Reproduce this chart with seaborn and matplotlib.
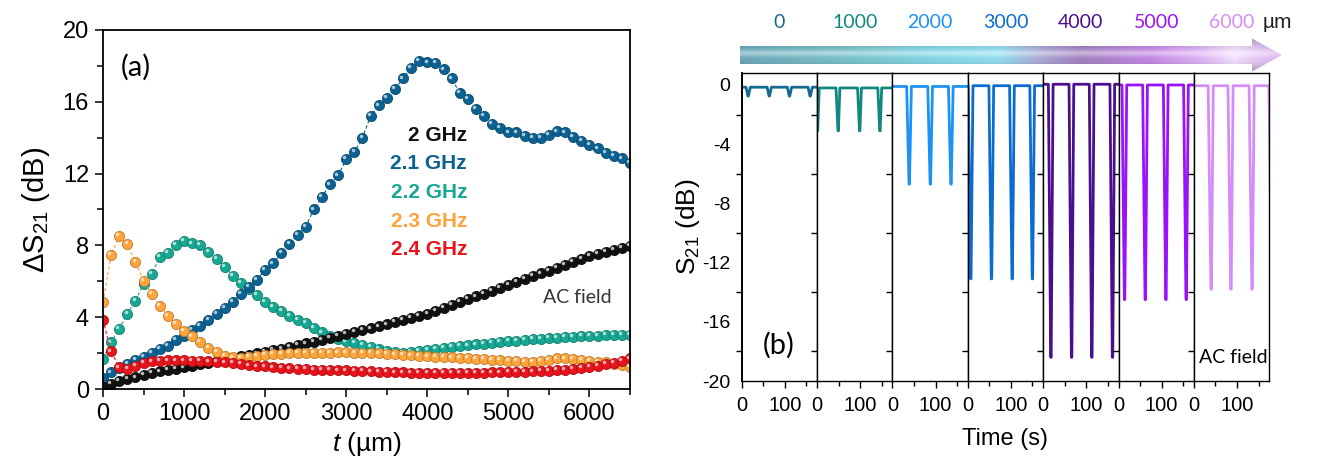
import numpy as np
import pandas as pd
import matplotlib
matplotlib.use('Agg')
import matplotlib.pyplot as plt
import matplotlib.transforms as mtransforms
from matplotlib.patches import Polygon
from matplotlib.colors import to_rgb
import seaborn as sns

# ---------------------------------------------------------------- data (a)
t_um = np.arange(0, 6600, 100)

ds21_2p0 = [0.1, 0.3, 0.45, 0.55, 0.65, 0.78, 0.9, 0.98, 1.05, 1.12,
            1.2, 1.3, 1.38, 1.46, 1.55, 1.64, 1.73, 1.82, 1.9, 1.98,
            2.07, 2.16, 2.25, 2.34, 2.44, 2.54, 2.64, 2.74, 2.84, 2.94,
            3.05, 3.16, 3.27, 3.38, 3.49, 3.6, 3.72, 3.84, 3.96, 4.08,
            4.2, 4.36, 4.52, 4.68, 4.84, 5.0, 5.16, 5.32, 5.48, 5.64,
            5.8, 5.96, 6.12, 6.28, 6.44, 6.6, 6.76, 6.92, 7.08, 7.24,
            7.4, 7.52, 7.63, 7.74, 7.85, 7.95]
ds21_2p1 = [0.62, 0.93, 1.15, 1.42, 1.62, 1.8, 2.02, 2.22, 2.42, 2.72,
            2.97, 3.28, 3.53, 3.85, 4.2, 4.5, 4.87, 5.3, 5.7, 6.1,
            6.65, 7.0, 7.6, 8.1, 8.6, 9.05, 10.0, 10.7, 11.4, 11.9,
            12.8, 13.2, 14.0, 15.2, 15.8, 16.2, 16.7, 17.3, 17.9, 18.3,
            18.2, 18.15, 17.8, 17.3, 16.5, 16.15, 15.6, 15.2, 14.75, 14.55,
            14.3, 14.3, 14.1, 14.0, 14.0, 14.15, 14.35, 14.3, 14.05, 13.8,
            13.6, 13.4, 13.15, 13.0, 12.85, 12.6]
ds21_2p2 = [1.69, 2.6, 3.35, 4.19, 4.93, 5.85, 6.39, 7.37, 7.56, 8.02,
            8.24, 8.11, 8.02, 7.65, 7.24, 6.81, 6.3, 5.89, 5.56, 5.24,
            4.83, 4.59, 4.35, 4.09, 3.85, 3.67, 3.39, 3.15, 2.93, 2.8,
            2.65, 2.56, 2.45, 2.33, 2.22, 2.12, 2.06, 2.03, 2.08, 2.14,
            2.2, 2.24, 2.28, 2.33, 2.38, 2.43, 2.48, 2.53, 2.58, 2.62,
            2.66, 2.7, 2.73, 2.77, 2.8, 2.83, 2.86, 2.89, 2.92, 2.94,
            2.96, 2.98, 3.0, 3.0, 3.02, 3.0]
ds21_2p3 = [4.83, 7.46, 8.52, 8.07, 7.09, 6.04, 5.3, 4.65, 4.09, 3.63,
            3.24, 2.93, 2.61, 2.31, 2.06, 1.85, 1.76, 1.72, 1.78, 1.85,
            1.91, 1.94, 1.97, 1.99, 2.0, 2.01, 2.02, 2.03, 2.03, 2.04,
            2.04, 2.03, 2.02, 2.0, 1.98, 1.96, 1.93, 1.9, 1.87, 1.84,
            1.82, 1.8, 1.78, 1.76, 1.74, 1.72, 1.69, 1.66, 1.63, 1.61,
            1.58, 1.55, 1.52, 1.5, 1.55, 1.63, 1.7, 1.7, 1.67, 1.63,
            1.58, 1.53, 1.48, 1.42, 1.35, 1.25]
ds21_2p4 = [3.85, 2.09, 1.2, 1.11, 1.3, 1.44, 1.54, 1.57, 1.59, 1.59,
            1.59, 1.58, 1.57, 1.54, 1.5, 1.48, 1.44, 1.39, 1.31, 1.26,
            1.26, 1.2, 1.19, 1.15, 1.11, 1.1, 1.07, 1.07, 1.06, 1.04,
            1.04, 1.02, 1.0, 0.98, 0.96, 0.95, 0.93, 0.92, 0.91, 0.9,
            0.9, 0.89, 0.89, 0.89, 0.89, 0.9, 0.9, 0.91, 0.92, 0.93,
            0.94, 0.95, 0.97, 0.98, 1.0, 1.02, 1.05, 1.08, 1.12, 1.17,
            1.22, 1.3, 1.38, 1.45, 1.55, 1.7]

freq_labels = ['2 GHz', '2.1 GHz', '2.2 GHz', '2.3 GHz', '2.4 GHz']
freq_colors = ['#111111', '#0b6292', '#17a894', '#fda43c', '#e8141c']
freq_label_y = [14.1, 12.55, 10.95, 9.35, 7.75]
draw_order = [2, 1, 0, 3, 4]

# ---------------------------------------------------------------- data (b)
thickness_labels = ['0', '1000', '2000', '3000', '4000', '5000', '6000']
thickness_colors = ['#15698f', '#11877e', '#1c92f5', '#0a6cd0', '#4a0f8f', '#9a12fa', '#d58cf8']
base_level = [-0.15, -0.2, -0.1, -0.05, 0.05, 0.0, -0.05]
dip_depth = [-0.75, -3.1, -6.7, -13.1, -18.4, -14.5, -13.8]
dip_times = [[15, 64, 111, 159], [1, 49, 99, 146], [39, 88, 136], [7, 55, 103, 150],
             [18, 66, 113, 161], [14, 62, 110, 157], [40, 86, 135, 181]]
dip_fall = [5, 5, 6, 6, 6, 6, 7]
dip_rise = [5, 4, 5, 5, 5, 5, 5]

# ---------------------------------------------------------------- style
sns.set_theme(style='ticks')
plt.rcParams['font.family'] = ['Liberation Sans', 'DejaVu Sans']
plt.rcParams['mathtext.fontset'] = 'custom'
plt.rcParams['mathtext.rm'] = 'Liberation Sans'
plt.rcParams['mathtext.it'] = 'Liberation Sans:italic'
plt.rcParams['mathtext.default'] = 'regular'
plt.rcParams['axes.unicode_minus'] = False
plt.rcParams['axes.edgecolor'] = 'black'
plt.rcParams['xtick.color'] = 'black'
plt.rcParams['ytick.color'] = 'black'
plt.rcParams['text.color'] = 'black'
plt.rcParams['axes.labelcolor'] = 'black'

W, H = 1318, 465
fig = plt.figure(figsize=(W / 100, H / 100), dpi=100)


def px_axes(x0, y0, x1, y1):
    return fig.add_axes([x0 / W, 1 - y1 / H, (x1 - x0) / W, (y1 - y0) / H])


def darker(c, f=0.7):
    return tuple(v * f for v in to_rgb(c))


def lighter(c, f=0.6):
    return tuple(v + (1 - v) * f for v in to_rgb(c))


# ---------------------------------------------------------------- panel (a)
ax = px_axes(103, 30, 630, 389)
series = [ds21_2p0, ds21_2p1, ds21_2p2, ds21_2p3, ds21_2p4]
df_a = pd.concat([pd.DataFrame({'t': t_um, 'ds21': s, 'freq': lab})
                  for s, lab in zip(series, freq_labels)], ignore_index=True)
shine = mtransforms.offset_copy(ax.transData, fig=fig, x=-1.3, y=1.3, units='points')
for k in draw_order:
    sub = df_a[df_a['freq'] == freq_labels[k]]
    c = freq_colors[k]
    sns.lineplot(data=sub, x='t', y='ds21', color=c, ax=ax, linewidth=0.8,
                 linestyle=(0, (3, 2)), marker='o', markersize=7.3,
                 markerfacecolor=c, markeredgecolor=darker(c, 0.75), markeredgewidth=0.6,
                 estimator=None, legend=False)
    hl = '#bbbbbb' if k == 0 else lighter(c, 0.65)
    ax.plot(sub['t'], sub['ds21'], linestyle='none', marker='o', markersize=2.5,
            color=hl, markeredgewidth=0, transform=shine)

ax.set_xlim(0, 6500)
ax.set_ylim(0, 20)
ax.set_xticks(range(0, 6001, 1000))
ax.set_xticks(range(0, 6501, 500), minor=True)
ax.set_yticks(range(0, 21, 4))
ax.set_yticks(range(0, 21, 2), minor=True)
ax.tick_params(which='both', direction='out', width=1.1)
ax.tick_params(which='major', length=6, labelsize=17, pad=4)
ax.tick_params(which='minor', length=4.5)
for sp in ax.spines.values():
    sp.set_linewidth(1.3)
ax.set_xlabel('$\\mathit{t}$ (µm)', fontsize=19, labelpad=4)
ax.set_ylabel('ΔS$_{21}$ (dB)', fontsize=21, labelpad=8)

for lab, c, yy in zip(freq_labels, freq_colors, freq_label_y):
    ax.text(4490, yy, lab, color=c, ha='right', va='center', fontsize=15, fontweight='bold')
ax.text(222, 17.9, '(a)', fontsize=21, family='Lato', va='center', ha='left')
ax.text(5430, 5.07, 'AC field', fontsize=14, family='Lato', va='center', ha='left', color='#333333')

# ---------------------------------------------------------------- panel (b)
x_left, x_right = 741.7, 1269.3
step = (x_right - x_left) / 7
sub_axes = []
for i in range(7):
    axb = px_axes(x_left + i * step, 72.7, x_left + (i + 1) * step, 381)
    sub_axes.append(axb)
    b, d = base_level[i], dip_depth[i]
    tt, ss = [-10], [b]
    for tc in dip_times[i]:
        tt += [tc - dip_fall[i], tc - 0.5, tc + 0.5, tc + dip_rise[i]]
        ss += [b, d, d, b]
    tt.append(190)
    ss.append(b)
    trace = pd.DataFrame({'time': tt, 's21': ss})
    sns.lineplot(data=trace, x='time', y='s21', color=thickness_colors[i], ax=axb,
                 linewidth=2.0, estimator=None, sort=False, legend=False)
    axb.set_xlim(0, 175)
    axb.set_ylim(-20, 0.83)
    axb.set_xticks([0, 100])
    axb.set_xticks([50, 150], minor=True)
    axb.set_yticks(range(0, -21, -4))
    axb.set_yticks(range(-2, -20, -4), minor=True)
    axb.tick_params(axis='x', which='both', direction='out', width=1.0, labelsize=14.5, pad=6)
    axb.tick_params(axis='x', which='major', length=5)
    axb.tick_params(axis='x', which='minor', length=3.5)
    axb.tick_params(axis='y', which='major', length=0, labelsize=14, pad=8)
    axb.tick_params(axis='y', which='minor', length=4, width=1.0, direction='out')
    if i > 0:
        axb.tick_params(axis='y', labelleft=False)
    axb.set_xlabel('')
    axb.set_ylabel('')
    for sp in axb.spines.values():
        sp.set_linewidth(1.0)
    axb.text(0.5, 1.164, thickness_labels[i], transform=axb.transAxes, ha='center', va='center',
             fontsize=14, family='Lato', color=thickness_colors[i])

sub_axes[0].spines['left'].set_linewidth(1.4)
sub_axes[0].set_ylabel('S$_{21}$ (dB)', fontsize=19, labelpad=0)
sub_axes[3].set_xlabel('Time (s)', fontsize=17, labelpad=9)
sub_axes[0].text(86, -17.6, '(b)', fontsize=21, family='Lato', ha='center', va='center')
sub_axes[6].text(11, -18.4, 'AC field', fontsize=14, family='Lato', ha='left', va='center')
sub_axes[6].text(1.11, 1.164, 'µm', transform=sub_axes[6].transAxes, ha='center', va='center',
                 fontsize=15, color='#222222')

# ---------------------------------------------------------------- gradient arrow
axr = px_axes(736, 34, 1286, 76)
axr.set_xlim(736, 1286)
axr.set_ylim(76, 34)
axr.axis('off')
stops_px = [740, 850, 930, 1000, 1040, 1080, 1150, 1200, 1235, 1282]
stops_col = ['#6eaabd', '#7cc4cc', '#84d8e8', '#95e0f1', '#aeaad8', '#a584c0',
             '#c58ae6', '#e0b4f6', '#f4e4ff', '#dbb0f2']
cols = np.array([to_rgb(c) for c in stops_col])
xs = np.linspace(740, 1282, 400)
ys = np.linspace(38, 72, 60)
row = np.stack([np.interp(xs, stops_px, cols[:, j]) for j in range(3)], axis=-1)
img = np.repeat(row[None, :, :], len(ys), axis=0)
glow = 0.4 * np.exp(-((ys - 53) / 3.0) ** 2)
shade = 1 - 0.08 * ((ys - 55) / 9.0) ** 2
img = img * shade[:, None, None]
img = img + (1 - img) * glow[:, None, None]
img = np.clip(img, 0, 1)
arrow = Polygon([(740, 46), (1252, 46), (1252, 38.5), (1282, 55), (1252, 71.5),
                 (1252, 64), (740, 64)], closed=True, transform=axr.transData,
                facecolor='none', edgecolor='none')
axr.add_patch(arrow)
im = axr.imshow(img, extent=(740, 1282, 72, 38), aspect='auto', interpolation='bilinear')
im.set_clip_path(arrow)

fig.savefig('out.png', dpi=100)
